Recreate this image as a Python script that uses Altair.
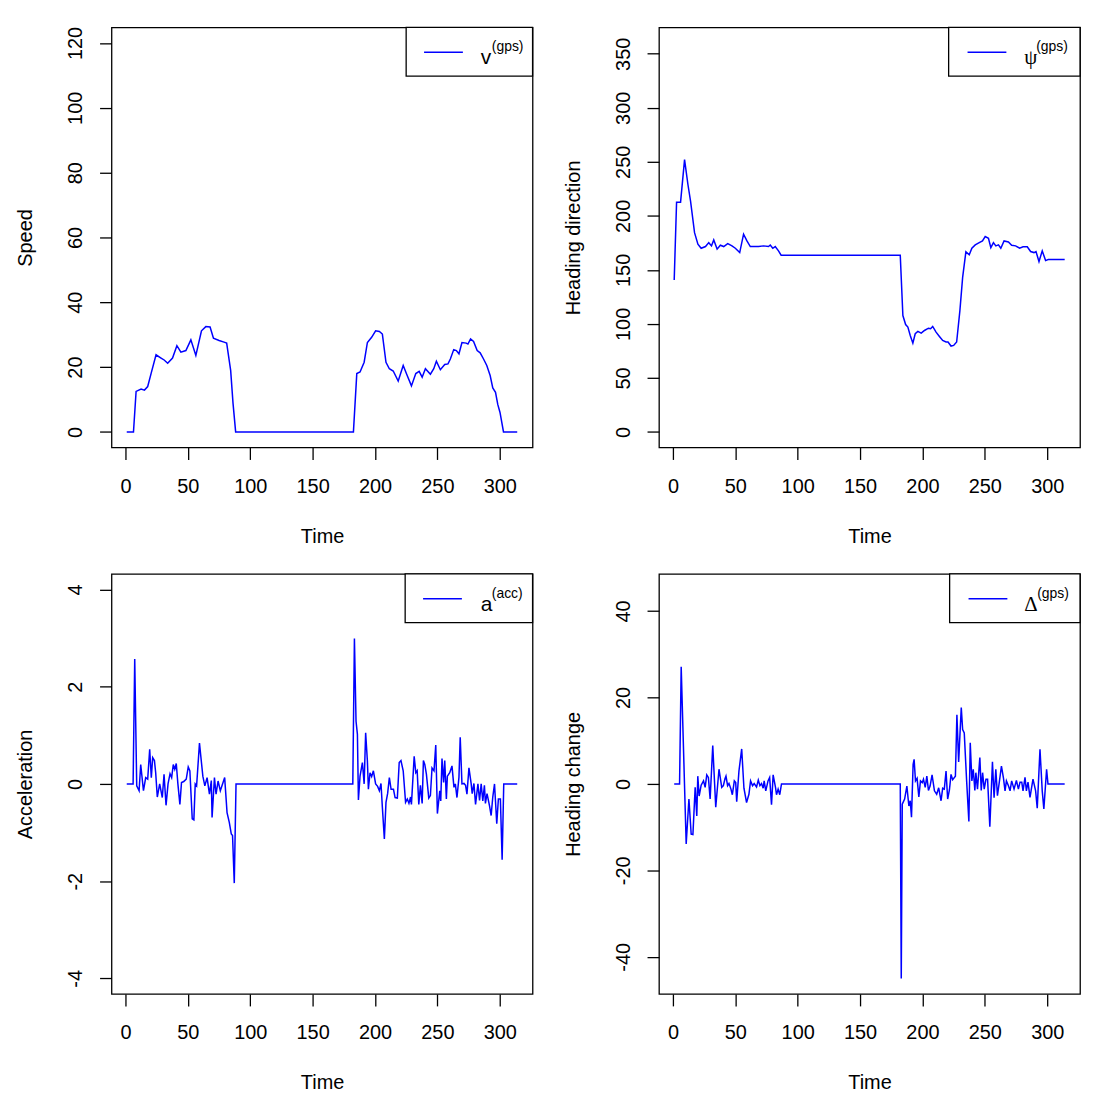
import altair as alt
import pandas as pd

# ---------------- data ----------------
speed_t = [1, 6.4, 8.5, 12.5, 15.2, 17.8, 20.5, 24.5, 28.5, 31,
           33.8, 37.7, 41.2, 44.4, 48.4, 52.4, 56.4, 60.9, 64.4, 67.8,
           70.5, 75, 79, 81.1, 84.3, 86.2, 88.3, 182.7, 185.4, 188,
           191.3, 193.9, 197.3, 200.5, 203.5, 205.9, 208.8, 211.5, 214.6, 218.6,
           222.6, 225.8, 229.2, 232.7, 235.4, 237.8, 240.4, 244.4, 247.1, 249.2,
           252.4, 255.9, 258.5, 260.4, 263.1, 265.2, 267.3, 269.7, 273.1, 274.5,
           276.6, 279, 281.9, 284.3, 287, 289.6, 292.3, 294.4, 296.6, 298.4,
           300.2, 303, 314]
speed_v = [0, 0, 12.5, 13.2, 12.9, 14, 18, 23.8, 22.8, 22.2,
           21.2, 22.8, 26.6, 24.6, 25.1, 28.4, 23.6, 31.2, 32.5, 32.4,
           28.9, 28.2, 27.7, 27.4, 19, 8.8, 0, 0, 18, 18.5,
           21.5, 27.6, 29.2, 31.2, 31, 30.2, 21.5, 19.5, 18.8, 15.7,
           20.5, 17.4, 14.2, 18, 18.7, 16.9, 19.5, 17.8, 19.5, 21.8,
           19.2, 20.8, 21, 22.5, 25.4, 25.1, 24.1, 27.6, 27.4, 27.1,
           28.7, 27.9, 25.1, 24.4, 22.5, 20.5, 17.4, 13.6, 12.2, 8.5,
           6, 0, 0]

head_t = [1, 2.9, 6.1, 9.3, 12, 14.1, 17.3, 20, 22.6, 26.1,
          28.7, 30.9, 32.7, 35.4, 38, 40.7, 43.9, 47.3, 50, 53.5,
          56.6, 59.3, 62, 68.6, 72.6, 76.6, 78, 80, 82, 84.6,
          86.7, 182.2, 184.3, 186.5, 188.3, 190.2, 192.3, 194.2, 196.3, 199,
          201.6, 204.8, 206.5, 208.2, 210.9, 213.6, 216.2, 218.9, 220.5, 222.9,
          225, 227.4, 230, 232.2, 234.8, 237.5, 239.6, 242.3, 245.5, 248.1,
          250.3, 252.9, 254.8, 256.9, 258.8, 260.9, 262.8, 265.4, 268.9, 271.5,
          274.7, 277.9, 280.6, 284, 286.7, 289.4, 291, 293.4, 296, 298.7,
          300.8, 314]
head_v = [140.6, 212.7, 212.7, 252, 229, 213.6, 184.4, 173.8, 170, 171.6,
          175.2, 172.2, 177.7, 169.2, 172.8, 171.6, 174.3, 172.2, 170, 166,
          183, 176.8, 171.6, 171.6, 172.2, 171.6, 173, 170, 171.6, 167.6,
          163.6, 163.6, 107.7, 99.4, 97, 89.3, 82.2, 90.9, 93, 91.4,
          93.9, 96, 95.5, 97.6, 92.4, 88.4, 84.7, 83.2, 83.2, 79.5,
          80.1, 83.2, 112.3, 143, 166.7, 164, 170, 173.1, 175.2, 176.8,
          180.8, 179.3, 170.6, 175.2, 172.2, 173.1, 170, 176.8, 175.8, 172.8,
          172.2, 170, 171.3, 171.3, 167, 166, 167, 157.7, 167.6, 158.6,
          159.5, 159.5]

acc_t = [1, 6.1, 7.4, 9, 10.9, 12.2, 14.4, 16.2, 17.8, 19.4,
         20.7, 21.8, 23.2, 24.2, 25.5, 27.4, 29.5, 30.9, 32.5, 34.1,
         35.7, 37, 38.3, 39.5, 40.7, 42, 43.6, 44.9, 46.7, 48.7,
         50.3, 51.6, 53.5, 54.8, 55.9, 57, 59.3, 62, 63.6, 65.4,
         67.3, 68.8, 69.4, 71.3, 72.6, 74.2, 76, 77.8, 79.5, 81.4,
         83.2, 84.8, 85.8, 87.2, 88.6, 182.2, 183.5, 184.8, 185.9, 186.7,
         188, 189.9, 191.3, 192.5, 193.9, 194.7, 196, 197.3, 198.7, 200.5,
         202.1, 203.5, 204.8, 205.9, 207.5, 208.8, 210.1, 211.5, 212.9, 214.8,
         216.1, 217.9, 219.4, 220.8, 222.6, 224.5, 225.9, 227.2, 228.5, 229.2,
         231.4, 232.7, 233.8, 235.1, 236.4, 237.8, 238.8, 239.9, 241.2, 243.1,
         244.4, 245.7, 247.3, 248.7, 250, 251.9, 252.7, 253.7, 255, 255.9,
         257.2, 258, 259.9, 261.7, 263.3, 264.4, 265.7, 267.3, 268.3, 269.7,
         271.3, 272.6, 273.7, 275.3, 277.1, 277.9, 279.3, 280.6, 282.5, 283.8,
         285.1, 286.4, 287.7, 288.5, 289.8, 291.8, 293.1, 294.4, 295.8, 297.6,
         298.9, 300.5, 301.9, 303.2, 314]
acc_v = [0, 0, 2.57, -0.04, -0.14, 0.40, -0.14, 0.13, 0.1, 0.71,
         0.13, 0.54, 0.48, 0.23, -0.27, 0, -0.28, 0.2, -0.44, 0,
         0.21, 0.13, 0.40, 0.3, 0.42, 0, -0.42, 0.03, 0.05, 0.1,
         0.35, 0.27, -0.72, -0.74, 0, -0.04, 0.84, 0.16, -0.04, 0.13,
         -0.21, 0.07, -0.69, 0.13, -0.21, 0.06, -0.14, 0, 0.13, -0.59,
         -0.79, -1.03, -1.06, -2.04, 0, 0, 2.99, 1.29, 1.02, -0.33,
         0.16, 0.44, 0, 1.05, 0.47, -0.11, 0.23, 0.15, 0.27, 0,
         -0.05, -0.14, 0.01, -0.48, -1.13, -0.38, -0.2, 0.13, -0.11, -0.11,
         -0.28, -0.29, 0.44, 0.48, 0.27, -0.38, -0.31, -0.40, -0.27, -0.42,
         0.57, 0.23, 0.27, -0.42, -0.03, -0.40, 0.48, 0.4, 0.2, -0.29,
         -0.24, 0.33, 0.27, 0.8, -0.61, -0.14, -0.35, 0.52, 0.03, 0.48,
         -0.31, 0.16, 0.23, 0.37, -0.07, 0, -0.28, 0.14, 0.96, 0,
         0.01, -0.03, -0.21, 0.33, 0, -0.2, 0.01, -0.42, 0, -0.34,
         0, -0.35, -0.03, -0.4, -0.2, -0.45, -0.65, -0.27, 0, -0.82,
         -0.31, -0.31, -1.56, 0, 0]

dh_t = [1, 5.3, 6.6, 10.6, 12.8, 14.6, 16, 17.8, 19.1, 19.9,
        21, 22.6, 24.5, 25.8, 27.1, 28.4, 29.8, 31.9, 34.3, 36.9,
        39.1, 40.4, 41.7, 42.5, 43.8, 44.9, 46.5, 47.6, 49.2, 50.3,
        51.1, 52.9, 55.1, 56.9, 59, 60.9, 62.2, 63.8, 65.1, 67,
        68.4, 69.7, 71, 72.3, 73.1, 74.4, 76.2, 77.5, 79, 80.3,
        82.2, 83, 84.3, 85.6, 87, 182.2, 183, 183.8, 185.7, 187.5,
        189.1, 190.2, 191.2, 192.5, 193.3, 194.4, 195.7, 197.1, 198.4, 199.8,
        200.8, 202.2, 203.5, 204.8, 206.1, 207.7, 209.6, 211.4, 213, 214.9,
        216.2, 217.5, 218.9, 220.2, 221.6, 222.9, 224.2, 226.4, 227.6, 229,
        231.1, 232.2, 233.5, 235.4, 237.2, 238.3, 239.6, 240.7, 242, 242.8,
        244.1, 245, 246, 247.1, 248.2, 249.5, 250.9, 252.2, 254, 256.1,
        257.4, 258.8, 260.1, 261.4, 263.3, 264.9, 266.2, 267.3, 268.9, 270.2,
        271.5, 273.4, 275.3, 276.9, 278.2, 279.6, 280.6, 282.2, 283.3, 284.6,
        286.2, 287.5, 288.6, 290.7, 292, 294.2, 296, 297.3, 299.5, 300.6,
        314]
dh_v = [0, 0, 27.1, -13.9, -3.5, -11.6, -11.7, -0.8, -7.4, 1.8,
        -2.8, -0.3, 0.7, -0.8, 2.1, 1.5, -3.5, 8.9, -5.4, 3.4,
        -0.8, -0.4, 1.2, 1.8, -0.4, 0.1, -1.2, -2.5, 0.7, 0.3,
        -4.1, 3, 8.1, -1, -4.3, -2.4, 0.7, -0.4, 0.1, -0.7,
        0.9, -0.4, 0.1, -1, 0.7, -1.6, 0.7, 1.5, -4.8, 2.1,
        -0.8, -2.5, -1.2, -2.5, 0, 0, -45, -4.7, -3.5, -0.5,
        -5.1, -3.9, -7.7, 4.5, 5.7, 0.7, 1.3, -3, 0.7, 0.3,
        1.1, -0.8, 1.8, -1.5, -0.5, 2.1, -1.6, -2.4, -0.9, -3.9,
        -1, -1.2, 3, -3.5, -1.4, 2.2, 1, 1.8, 16, 5.1,
        17.7, 12.6, 11.8, 0.7, -8.7, 9.5, 0.7, 3.4, -1.5, 2.6,
        -1.2, 2.3, 6.1, -1.5, 2.6, -1.2, 1.1, 1.1, -9.9, 5.1,
        -3.2, 3.4, -2.7, 0, 4.1, 1.4, -1.6, 0.7, -0.4, -1.6,
        0.7, -1.2, 0.8, -1.2, 0.4, 0.4, -1.6, 1.5, -1.6, 0.4,
        -3.1, -0.8, 1.1, -1.6, -5.6, 8, -1.6, -5.8, 3.4, 0,
        0]

x_ticks = [0, 50, 100, 150, 200, 250, 300]
speed_ticks = [0, 20, 40, 60, 80, 100, 120]
head_ticks = [0, 50, 100, 150, 200, 250, 300, 350]
acc_ticks = [-4, -2, 0, 2, 4]
dh_ticks = [-40, -20, 0, 20, 40]

# ---------------- layout constants ----------------
W, H = 423, 422
FONT = "Liberation Sans"
XDOM = [-11.2, 326.3]
PLAIN = "'' + datum.value"   # R-style labels with an ASCII hyphen minus


def panel(t, v, ydom, yticks, ytitle, sym, sup, sym_font, box_l, line_l, sym_x, sup_x):
    df = pd.DataFrame({"Time": t, "val": v})
    line = alt.Chart(df).mark_line(color="#0000FF", strokeWidth=1.5).encode(
        x=alt.X("Time:Q",
                scale=alt.Scale(domain=XDOM, nice=False, zero=False),
                axis=alt.Axis(values=x_ticks, title="Time", labelExpr=PLAIN,
                              labelPadding=17, titleX=W / 2, titleY=89,
                              titleBaseline="middle", titleAlign="center")),
        y=alt.Y("val:Q",
                scale=alt.Scale(domain=ydom, nice=False, zero=False),
                axis=alt.Axis(values=yticks, title=ytitle, labelExpr=PLAIN,
                              labelAngle=270, labelAlign="center",
                              labelBaseline="middle", labelPadding=24,
                              titleAngle=270, titleX=-86, titleY=H / 2,
                              titleBaseline="middle", titleAlign="center")),
    )
    one = pd.DataFrame({"k": [0]})
    box = alt.Chart(one).mark_rect(fill="white", stroke="black", strokeWidth=1.3).encode(
        x=alt.value(box_l), x2=alt.value(W), y=alt.value(0), y2=alt.value(49))
    sample = alt.Chart(one).mark_rule(color="#0000FF", strokeWidth=1.5).encode(
        x=alt.value(line_l), x2=alt.value(line_l + 39), y=alt.value(25))
    main = alt.Chart(one).mark_text(text=sym, font=sym_font, fontSize=21, align="left",
                                    baseline="alphabetic", color="black").encode(
        x=alt.value(sym_x), y=alt.value(37))
    sups = alt.Chart(one).mark_text(text=sup, font=FONT, fontSize=14, align="left",
                                    baseline="alphabetic", color="black").encode(
        x=alt.value(sup_x), y=alt.value(24))
    return alt.layer(line, box, sample, main, sups).properties(width=W, height=H)


p1 = panel(speed_t, speed_v, [-4.8, 124.8], speed_ticks, "Speed",
           "v", "(gps)", FONT, 296, 314, 371, 382)
p2 = panel(head_t, head_v, [-14.4, 374.4], head_ticks, "Heading direction",
           "\u03c8", "(gps)", "Liberation Serif", 291, 310, 367, 379)
p3 = panel(acc_t, acc_v, [-4.32, 4.32], acc_ticks, "Acceleration",
           "a", "(acc)", FONT, 295, 313, 371, 382)
p4 = panel(dh_t, dh_v, [-48.6, 48.6], dh_ticks, "Heading change",
           "\u0394", "(gps)", "Liberation Serif", 292, 311, 367, 380)

chart = alt.concat(p1, p2, p3, p4, columns=2, spacing=127, bounds="flush").properties(
    padding={"left": 7, "top": 15, "right": 5, "bottom": 0}
).configure(
    background="white"
).configure_view(
    stroke="black", strokeWidth=1.3
).configure_axis(
    grid=False, domain=False, ticks=True, tickColor="black", tickSize=12,
    tickWidth=1.3, labelFont=FONT, labelFontSize=20, labelColor="black",
    titleFont=FONT, titleFontSize=20, titleFontWeight="normal", titleColor="black",
    labelFlush=False, labelOverlap=False
)

chart.save("out.html", embed_options={"renderer": "svg", "actions": False})
